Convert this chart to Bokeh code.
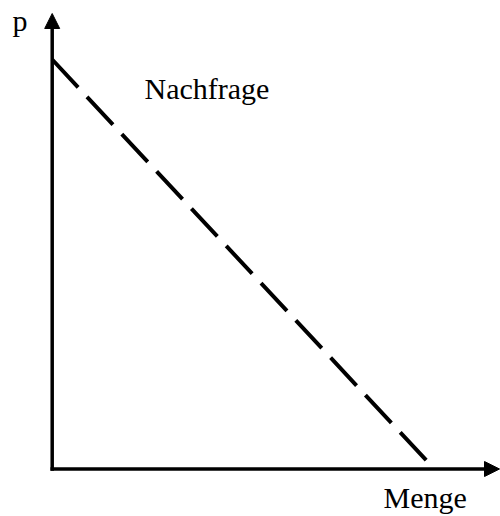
from bokeh.plotting import figure
from bokeh.models import Arrow, NormalHead, Label, Range1d
from bokeh.embed import file_html
from bokeh.resources import INLINE

# Data: linear demand curve (quantity, price)
demand_q = [0, 10]
demand_p = [10, 0]
axis_labels = {"price": "p", "quantity": "Menge", "curve": "Nachfrage"}

# Layout (pixels)
W, H = 500, 516
ox, oy = 51.7, H - 468.5     # origin position in canvas px (from left, from bottom)
sx = 382.3 / max(demand_q)   # px per quantity unit
sy = 409.5 / max(demand_p)   # px per price unit
text_shift = 10              # compensate baseline placement of labels

def dx(px):
    return (px - ox) / sx

def dy(py_top):
    return (H - py_top - oy) / sy

p = figure(width=W, height=H, output_backend="svg", toolbar_location=None,
           x_range=Range1d(dx(0), dx(W)), y_range=Range1d(dy(H), dy(0)),
           x_axis_location=None, y_axis_location=None, min_border=0)
p.grid.visible = False
p.outline_line_color = None
p.background_fill_color = "white"
p.border_fill_color = "white"

# axes with arrow heads
p.add_layout(Arrow(x_start=0, y_start=dy(470.2), x_end=0, y_end=dy(13),
                   line_width=3.5, line_color="black",
                   end=NormalHead(size=15, fill_color="black", line_color="black", line_width=1)))
p.add_layout(Arrow(x_start=dx(50), y_start=0, x_end=dx(499), y_end=0,
                   line_width=3.5, line_color="black",
                   end=NormalHead(size=15, fill_color="black", line_color="black", line_width=1)))

# demand curve
p.line(demand_q, demand_p, line_color="black", line_width=4, line_dash="38 13")

font = "Liberation Serif"
p.add_layout(Label(x=dx(12), y=dy(30 - text_shift), text=axis_labels["price"], text_font=font,
                   text_font_size="30px", text_color="black", text_baseline="alphabetic"))
p.add_layout(Label(x=dx(144), y=dy(98 - text_shift), text=axis_labels["curve"], text_font=font,
                   text_font_size="30px", text_color="black", text_baseline="alphabetic"))
p.add_layout(Label(x=dx(383), y=dy(507 - text_shift), text=axis_labels["quantity"], text_font=font,
                   text_font_size="30px", text_color="black", text_baseline="alphabetic"))

open("out.html", "w").write(file_html(p, INLINE))
